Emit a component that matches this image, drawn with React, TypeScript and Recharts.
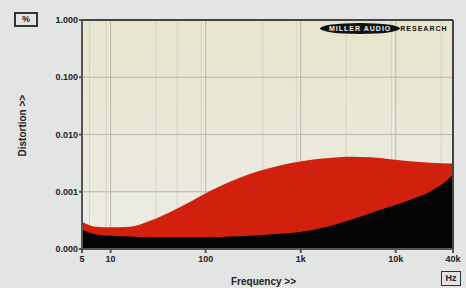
import React from "react";
import { ComposedChart, Area, XAxis, YAxis, CartesianGrid, ReferenceLine } from "recharts";

// frequency points (Hz)
const freqs = [5, 7, 10, 16, 26, 42, 69, 111, 180, 290, 475, 770, 1250, 2000, 3300, 5400, 8800, 14000, 23000, 37000, 40000];
// upper (red) and lower (black) distortion traces, in %
const redTrace = [0.0003, 0.000245, 0.00024, 0.000245, 0.00031, 0.00044, 0.00067, 0.00103, 0.0015, 0.00205, 0.0026, 0.00314, 0.0036, 0.0039, 0.0041, 0.004, 0.0037, 0.0034, 0.0032, 0.0031, 0.0031];
const blackTrace = [0.00022, 0.00018, 0.00017, 0.000165, 0.00016, 0.00016, 0.00016, 0.00016, 0.000165, 0.00017, 0.00018, 0.00019, 0.00021, 0.00025, 0.00032, 0.00042, 0.00055, 0.00072, 0.001, 0.00175, 0.002];

const xTicks = [5, 10, 100, 1000, 10000, 40000];
const xTickLabels = ["5", "10", "100", "1k", "10k", "40k"];
const yTicks = [0.0001, 0.001, 0.01, 0.1, 1];
const yTickLabels = ["0.000", "0.001", "0.010", "0.100", "1.000"];

const minorFreqs = [6, 7, 8, 9, 20, 30, 40, 50, 60, 70, 80, 90, 200, 300, 400, 500, 600, 700, 800, 900, 2000, 3000, 4000, 5000, 6000, 7000, 8000, 9000, 20000, 30000];
const majorFreqs = [10, 100, 1000, 10000];
const majorLevels = [0.001, 0.01, 0.1];

const data = freqs.map((f, i) => ({ f, red: redTrace[i], black: blackTrace[i] }));

const font = "'Liberation Sans', Arial, sans-serif";

function xFmt(v: number) {
  const i = xTicks.indexOf(v);
  return i >= 0 ? xTickLabels[i] : `${v}`;
}
function yFmt(v: number) {
  const i = yTicks.indexOf(v);
  return i >= 0 ? yTickLabels[i] : `${v}`;
}

export default function App() {
  return (
    <div style={{ position: "absolute", left: 0, top: 0, width: 466, height: 288, background: "#e3e4e4", fontFamily: font }}>
      <ComposedChart width={466} height={288} data={data} margin={{ top: 20, right: 13, bottom: 0, left: 0 }}>
        <defs>
          <linearGradient id="plotBg" x1="0" y1="0" x2="0" y2="1">
            <stop offset="0%" stopColor="#e7e5cc" />
            <stop offset="100%" stopColor="#edece6" />
          </linearGradient>
        </defs>
        <CartesianGrid fill="url(#plotBg)" stroke="#d6d4c3" horizontal={false} verticalValues={minorFreqs} />
        <CartesianGrid stroke="#b9b8aa" verticalValues={majorFreqs} horizontalValues={majorLevels} />
        <XAxis
          dataKey="f"
          type="number"
          scale="log"
          domain={[5, 40000]}
          ticks={xTicks}
          tickFormatter={xFmt}
          height={39}
          allowDataOverflow
          stroke="#555"
          strokeWidth={2}
          tickSize={4}
          tickMargin={3}
          tick={{ fontSize: 9, fontWeight: "bold", fill: "#222", fontFamily: font }}
          label={{ value: "Frequency >>", position: "insideBottom", offset: 3, dx: -4, style: { fontSize: 10, fontWeight: "bold", fill: "#222", fontFamily: font } }}
        />
        <YAxis
          type="number"
          scale="log"
          domain={[0.0001, 1]}
          ticks={yTicks}
          tickFormatter={yFmt}
          width={82}
          allowDataOverflow
          stroke="#555"
          strokeWidth={2}
          tickSize={3}
          tickMargin={1}
          tick={{ fontSize: 9, fontWeight: "bold", fill: "#222", fontFamily: font }}
          label={{ value: "Distortion >>", angle: -90, position: "insideLeft", offset: 22, dy: 22, style: { fontSize: 10, fontWeight: "bold", fill: "#222", fontFamily: font } }}
        />
        <Area type="monotone" dataKey="red" stroke="none" fill="#d2200f" fillOpacity={1} baseValue={0.0001} isAnimationActive={false} />
        <Area type="monotone" dataKey="black" stroke="none" fill="#050505" fillOpacity={1} baseValue={0.0001} isAnimationActive={false} />
        <ReferenceLine y={1} stroke="#444" strokeWidth={2} />
        <ReferenceLine x={40000} stroke="#444" strokeWidth={2} />
      </ComposedChart>
      <div style={{ position: "absolute", left: 14, top: 12, width: 24, height: 15, border: "2px solid #333", boxSizing: "border-box", fontSize: 9, fontWeight: "bold", textAlign: "center", lineHeight: "11px", color: "#222" }}>%</div>
      <div style={{ position: "absolute", left: 441, top: 271, width: 20, height: 15, border: "1.5px solid #333", boxSizing: "border-box", fontSize: 9, fontWeight: "bold", textAlign: "center", lineHeight: "12px", color: "#222" }}>Hz</div>
      <div style={{ position: "absolute", left: 320, top: 23, display: "flex", alignItems: "center" }}>
        <div style={{ background: "#111", color: "#eee", borderRadius: "50%", padding: "2px 9px", fontSize: 7, fontWeight: "bold", letterSpacing: 1, whiteSpace: "nowrap" }}>MILLER AUDIO</div>
        <div style={{ color: "#111", fontSize: 7, fontWeight: "bold", letterSpacing: 1, whiteSpace: "nowrap", marginLeft: 0 }}>RESEARCH</div>
      </div>
    </div>
  );
}
